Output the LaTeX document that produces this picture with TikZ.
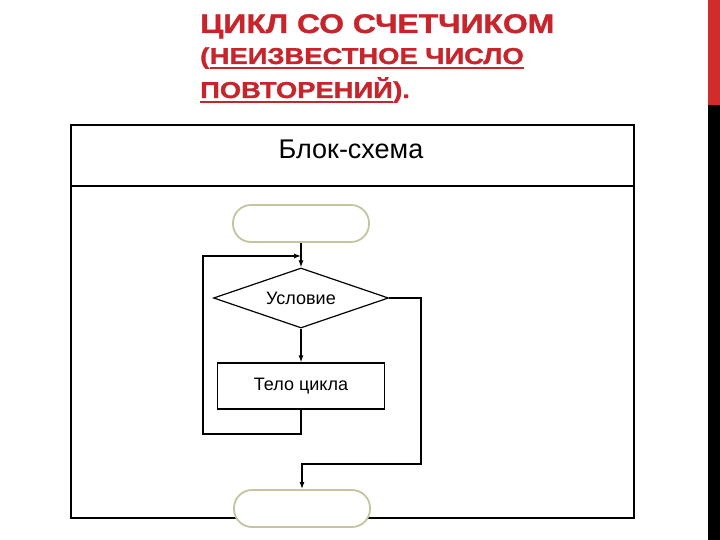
\documentclass[tikz,border=0pt]{standalone}
\usepackage{fontspec}
\setmainfont{Liberation Sans}
\newfontfamily\ttlfont[FakeBold=1.2]{Liberation Sans Bold}
\usetikzlibrary{shapes.geometric,arrows.meta}
\definecolor{titlered}{RGB}{200,36,44}
\definecolor{stripred}{RGB}{208,44,44}
\definecolor{termedge}{RGB}{196,196,160}
\tikzset{
  arr/.style={-{Latex[length=7pt,width=5pt]}, line width=1.2pt},
  term/.style={draw=termedge, line width=1.8pt, fill=white, rounded corners=18pt, minimum width=136pt, minimum height=37pt, inner sep=0},
  block/.style={draw, line width=1.2pt, fill=white, minimum width=167pt, minimum height=46pt, inner sep=0, font=\fontsize{18}{21}\selectfont},
  cond/.style={draw, diamond, aspect=4, line width=1.2pt, fill=white, minimum width=175pt, minimum height=60pt, inner sep=0, font=\fontsize{18}{21}\selectfont},
  ttl/.style={anchor=base west, inner sep=0, text=titlered, font=\ttlfont\fontsize{27}{30}\selectfont},
  ttlb/.style={anchor=base west, inner sep=0, text=titlered, font=\ttlfont\fontsize{23}{26}\selectfont},
}
\begin{document}
\begin{tikzpicture}[x=1pt,y=-1pt]
\useasboundingbox (0,0) rectangle (720,540);
% right strip
\fill[stripred] (708,0) rectangle (720,105);
\fill[black] (708,105) rectangle (720,540);
% title
\node[ttl] (t1) at (200,33) {\scalebox{1.18}[1]{ЦИКЛ СО СЧЕТЧИКОМ}};
\node[ttlb] (t2a) at (200,64) {\scalebox{1.19}[1]{(}};
\node[ttlb, anchor=base west] (t2b) at (t2a.base east) {\scalebox{1.19}[1]{НЕИЗВЕСТНОЕ ЧИСЛО}};
\node[ttlb] (t3a) at (200,98) {\scalebox{1.19}[1]{ПОВТОРЕНИЙ}};
\node[ttlb, anchor=base west] (t3b) at (t3a.base east) {\scalebox{1.19}[1]{).}};
\draw[titlered, line width=2.4pt] ([yshift=-4pt]t2b.base west) -- ([yshift=-4pt]t2b.base east);
\draw[titlered, line width=2.4pt] ([yshift=-4pt]t3a.base west) -- ([yshift=-4pt]t3a.base east);
% table
\draw[line width=1.6pt] (71,125) rectangle (634,518);
\draw[line width=1.4pt] (71,186) -- (634,186);
\node[inner sep=0, font=\fontsize{27}{30}\selectfont] (hdr) at (351,149) {Блок-схема};
% flowchart
\node[term] (top) at (301,223.5) {};
\node[cond] (dia) at (301,298) {Условие};
\node[block] (body) at (301,386) {Тело цикла};
\node[term] (bot) at (302,508.5) {};
\coordinate (lb) at (203,434);
\coordinate (lt) at (203,256);
\coordinate (j) at (301,256);
\coordinate (r1) at (421,464);
\draw[arr] (top.south) -- (dia.north);
\draw[arr] (dia.south) -- (body.north);
\draw[arr] (body.south) |- (lb) -- (lt) -- (j);
\draw[arr] (dia.east) -| (r1) -| (bot.north);
\end{tikzpicture}
\end{document}
